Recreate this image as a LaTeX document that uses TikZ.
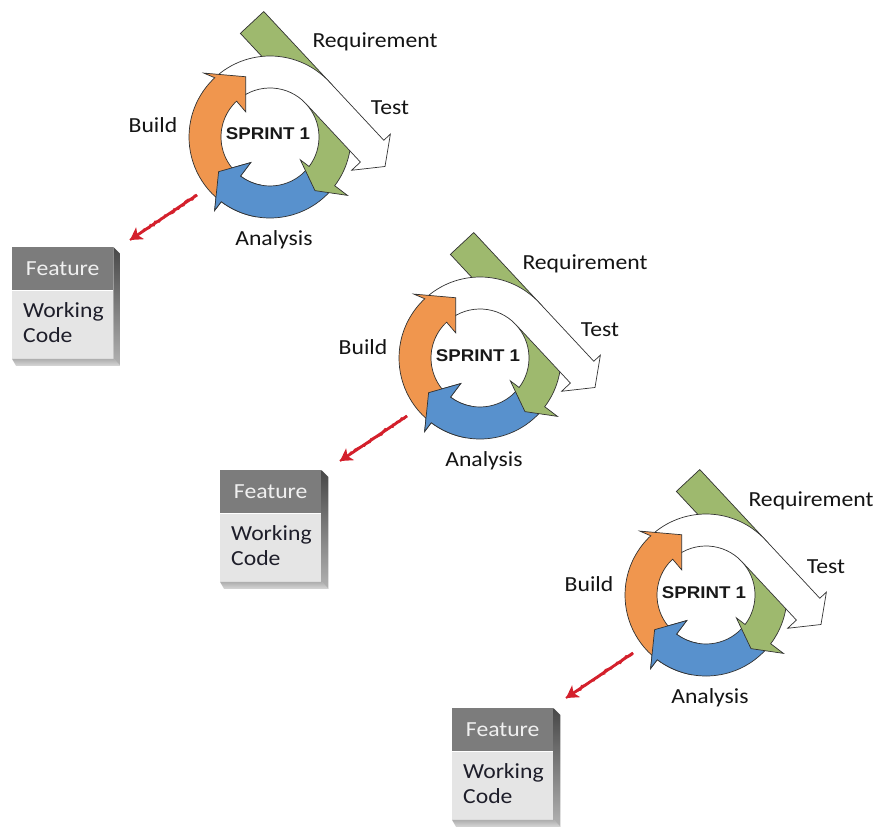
\documentclass[tikz,border=0pt]{standalone}
\usepackage{fontspec}
\setmainfont[FakeStretch=1.1]{Carlito}
\newfontfamily\sprintfont[FakeStretch=1.1]{Liberation Sans}
\usetikzlibrary{arrows.meta,decorations.pathmorphing}

\definecolor{cycorange}{RGB}{240,150,78}
\definecolor{cycblue}{RGB}{88,145,205}
\definecolor{cycgreen}{RGB}{158,185,110}
\definecolor{outline}{RGB}{50,50,50}
\definecolor{fhead}{RGB}{124,124,124}
\definecolor{fbody}{RGB}{229,229,229}
\definecolor{arrowred}{RGB}{212,32,44}
\definecolor{inktext}{RGB}{30,30,42}

\tikzset{
  edge/.style={draw=outline, line width=0.7pt, line join=miter},
  lbl/.style={font=\fontsize{21.5}{25}\selectfont, text=black!92, inner sep=0pt},
  sprintlbl/.style={font=\sprintfont\bfseries\fontsize{17}{20}\selectfont, text=black!90, inner sep=0pt},
  headbox/.style={fill=fhead, minimum width=101pt, minimum height=43pt, inner sep=0pt,
    text=white!94!black, font=\fontsize{21.5}{25}\selectfont},
  bodybox/.style={fill=fbody, minimum width=101pt, minimum height=68pt, inner sep=0pt},
  bodytext/.style={font=\fontsize{21.5}{25}\selectfont, text=inktext, inner sep=0pt},
  redarrow/.style={draw=arrowred, line width=2.8pt,
    -{Stealth[length=12pt,width=14pt,inset=3pt]},
    postaction={draw=arrowred, line width=2pt, -, decorate,
      decoration={random steps, segment length=2.5pt, amplitude=1.3pt,
        pre length=1pt, post length=11pt}}}
}

% point on the straight band tangent to the ring at 43 degrees:
% #1 = distance from the centre across the band, #2 = distance along it
\newcommand\bpt[2]{({(#1)*cos(43)+(#2)*cos(47)},{(#1)*sin(43)-(#2)*sin(47)})}
% outline of the blue arc arrow, starting at angle #1
\newcommand\bluearrow[1]{(#1:81) arc[start angle=#1,end angle=-127,radius=81]
  -- (-127:92) -- (-146:62) -- (-127:32) -- (-127:49)
  arc[start angle=-127,end angle=#1,radius=49]}

% one sprint: #1 tag, #2/#3 ring centre, #4/#5 top left corner of the feature card
\newcommand\sprintcycle[5]{%
  \begin{scope}[shift={(#2,-#3)}]
    % Analysis
    \fill[cycblue] \bluearrow{-42} -- cycle;
    \draw[edge] \bluearrow{-42} -- cycle;
    % Requirement
    \filldraw[edge, fill=cycgreen] \bpt{49}{-96} -- \bpt{81}{-96} -- (43:81)
      arc[start angle=43,end angle=-37,radius=81] -- (-37:97) -- (-50:70)
      -- (-37:38) -- (-37:49) arc[start angle=-37,end angle=43,radius=49] -- cycle;
    % Test
    \filldraw[edge, fill=white] (130:81) arc[start angle=130,end angle=43,radius=81]
      -- \bpt{81}{80} -- \bpt{90}{80} -- \bpt{64}{100} -- \bpt{37}{80} -- \bpt{49}{80}
      -- (43:49) arc[start angle=43,end angle=130,radius=49] -- cycle;
    % Build
    \filldraw[edge, fill=cycorange] (228:81) arc[start angle=228,end angle=133,radius=81]
      -- (136:92) -- (112:65) -- (134:35) -- (133:49)
      arc[start angle=133,end angle=228,radius=49] -- cycle;
    % head of the Analysis arrow lies over the tail of Build
    \fill[cycblue] \bluearrow{-100} -- cycle;
    \draw[edge] \bluearrow{-100};
    \node[lbl, anchor=base] (req#1) at (105,89) {Requirement};
    \node[lbl, anchor=base] (test#1) at (120,22) {Test};
    \node[lbl, anchor=base] (build#1) at (-117,4) {Build};
    \node[sprintlbl, anchor=base] (sprint#1) at (-2,-3) {SPRINT 1};
    \node[lbl, anchor=base] (ana#1) at (4,-108) {Analysis};
    \coordinate (out#1) at (-73,-58);
    \coordinate (in#1) at (-140,-103);
  \end{scope}
  % feature card with its extruded sides
  \node[headbox, anchor=north west] (fh#1) at (#4,-#5) {Feature};
  \node[bodybox, anchor=north] (fb#1) at (fh#1.south) {};
  \shade[top color=black!72, bottom color=black!30]
    (fh#1.north east) -- ++(7,-7) -- ([xshift=7pt,yshift=-7pt]fb#1.south east)
    -- (fb#1.south east) -- cycle;
  \shade[top color=black!32, bottom color=black!16]
    (fb#1.south west) -- (fb#1.south east) -- ++(7,-7)
    -- ([xshift=4pt,yshift=-7pt]fb#1.south west) -- cycle;
  \node[bodytext, anchor=base west] (wk#1) at ({#4+11},{-#5-70}) {Working};
  \node[bodytext, anchor=base west] (cd#1) at ({#4+11},{-#5-95}) {Code};
  \draw[redarrow] (out#1) -- (in#1);
}

\begin{document}
\begin{tikzpicture}[x=1pt,y=1pt]
  \fill[white] (0,0) rectangle (877,-829);
  \useasboundingbox (0,0) rectangle (877,-829);
  \sprintcycle{a}{270}{137}{12}{247}
  \sprintcycle{b}{480}{358}{220}{470}
  \sprintcycle{c}{706}{595}{452}{708}
\end{tikzpicture}
\end{document}
